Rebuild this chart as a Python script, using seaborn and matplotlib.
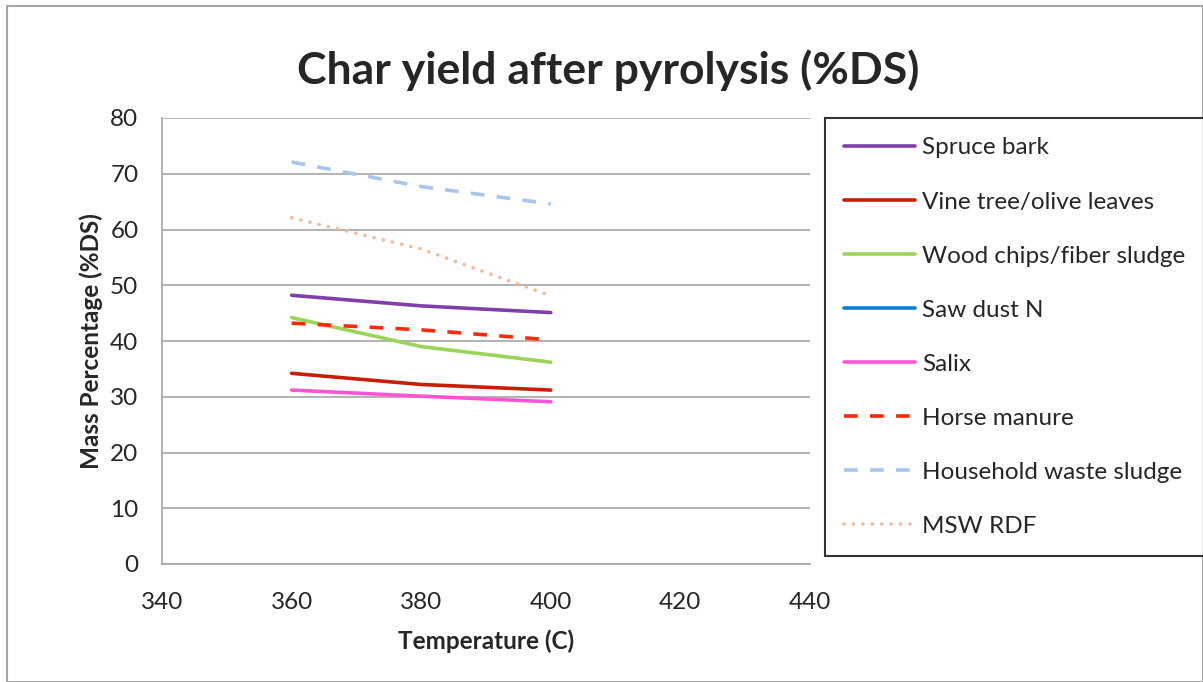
import matplotlib
matplotlib.use("Agg")
import matplotlib.pyplot as plt
import matplotlib.patches as mpatches
import seaborn as sns
import pandas as pd
import numpy as np

temperatures = [360, 380, 400]
spruce_bark = [48.2, 46.3, 45.1]
vine_olive = [34.2, 32.2, 31.2]
wood_chips = [44.2, 39.0, 36.2]
saw_dust_n = [np.nan, np.nan, np.nan]
salix = [31.2, 30.1, 29.1]
horse_manure = [43.2, 42.0, 40.2]
household_sludge = [72.1, 67.7, 64.6]
msw_rdf = [62.1, 56.5, 48.1]

series_names = ["Spruce bark", "Vine tree/olive leaves", "Wood chips/fiber sludge",
                "Saw dust N", "Salix", "Horse manure", "Household waste sludge", "MSW RDF"]
series_values = [spruce_bark, vine_olive, wood_chips, saw_dust_n, salix,
                 horse_manure, household_sludge, msw_rdf]
colors = ["#7f3fa8", "#c81e07", "#9cd45a", "#0a7fd0", "#ff55d4", "#ff2a0a", "#a8c6e8", "#f7b59a"]
dash_patterns = [None, None, None, None, None, (3.8, 3.4), (3.8, 3.4), (0.01, 2.6)]

rows = []
for name, vals in zip(series_names, series_values):
    for t, v in zip(temperatures, vals):
        rows.append({"Temperature": t, "Value": v, "Series": name})
df = pd.DataFrame(rows)

sns.set_style("white")
plt.rcParams['font.family'] = ['Lato', 'DejaVu Sans']

fig = plt.figure(figsize=(12.03, 6.82), dpi=100)
ax = fig.add_axes([162 / 1203, 1 - 564 / 682, (810 - 162) / 1203, (564 - 118) / 682])

lw = 2.6
handles = []
for name, c, dp in zip(series_names, colors, dash_patterns):
    sub = df[df["Series"] == name]
    n_before = len(ax.lines)
    sns.lineplot(data=sub, x="Temperature", y="Value", ax=ax, color=c,
                 linewidth=lw, legend=False, errorbar=None, sort=False)
    cap = "round" if name == "MSW RDF" else "butt"
    if len(ax.lines) > n_before and dp is not None:
        line = ax.lines[-1]
        line.set_dashes(dp)
        line.set_dash_capstyle(cap)
    h = plt.Line2D([], [], color=c, linewidth=lw)
    if dp is not None:
        h.set_dashes(dp)
        h.set_dash_capstyle(cap)
    handles.append(h)

ax.set_xlim(340, 440)
ax.set_ylim(0, 80)
ax.set_xticks([340, 360, 380, 400, 420, 440])
ax.set_yticks(range(0, 81, 10))
ax.yaxis.grid(True, color="#a6a6a6", linewidth=1.2)
ax.xaxis.grid(False)
for s in ["top", "right"]:
    ax.spines[s].set_visible(False)
for s in ["left", "bottom"]:
    ax.spines[s].set_color("#a6a6a6")
    ax.spines[s].set_linewidth(1.2)
ax.tick_params(axis="y", labelsize=17.5, length=0, pad=17)
ax.tick_params(axis="x", labelsize=17.5, length=0, pad=20)
ax.set_xlabel("Temperature (C)", fontsize=17.5, fontweight="bold", labelpad=12)
ax.set_ylabel("Mass Percentage (%DS)", fontsize=17.5, fontweight="bold", labelpad=5)

fig.text(608 / 1203, 1 - 70 / 682, "Char yield after pyrolysis (%DS)", fontsize=32,
         fontweight="bold", ha="center", va="center")

leg = fig.legend(handles, series_names, loc="upper left",
                 bbox_to_anchor=(825 / 1203, 1 - 118 / 682), frameon=True,
                 fontsize=17.5, handlelength=2.9, handletextpad=0.3,
                 labelspacing=1.36, borderpad=0.8, borderaxespad=0, fancybox=False)
leg.get_frame().set_edgecolor("black")
leg.get_frame().set_linewidth(1.5)

fig.add_artist(mpatches.Rectangle((7 / 1203, 0), 1 - 7 / 1203, 1 - 6 / 682,
                                  transform=fig.transFigure, fill=False,
                                  edgecolor="#a6a6a6", linewidth=1.5))

fig.savefig("out.png", dpi=100)
